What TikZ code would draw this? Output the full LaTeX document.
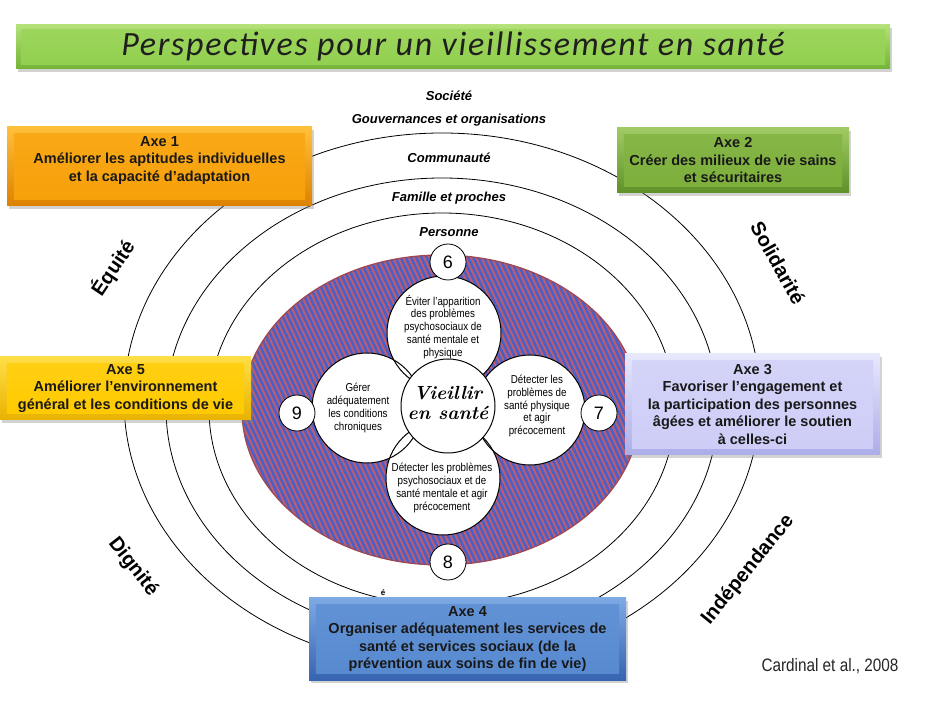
\documentclass[tikz,border=0pt]{standalone}
\usepackage{fontspec}
\newfontfamily\arial{Liberation Sans}
\newfontfamily\narrow[FakeStretch=0.85]{Liberation Sans}
\newfontfamily\titlefont[LetterSpace=5]{Carlito}
\usetikzlibrary{shadows}
\definecolor{stripeblue}{RGB}{72,96,200}
\definecolor{stripered}{RGB}{190,92,112}
\definecolor{rimred}{RGB}{160,70,80}
\definecolor{titretop}{RGB}{180,225,120}\definecolor{titremid}{RGB}{146,208,80}\definecolor{titrebot}{RGB}{115,180,55}
\definecolor{axeatop}{RGB}{255,192,60}\definecolor{axeamid}{RGB}{247,160,10}\definecolor{axeabot}{RGB}{220,130,0}
\definecolor{axebtop}{RGB}{160,202,100}\definecolor{axebmid}{RGB}{125,175,60}\definecolor{axebbot}{RGB}{95,145,40}
\definecolor{axectop}{RGB}{232,232,253}\definecolor{axecmid}{RGB}{205,205,247}\definecolor{axecbot}{RGB}{172,172,232}
\definecolor{axedtop}{RGB}{125,170,228}\definecolor{axedmid}{RGB}{88,138,208}\definecolor{axedbot}{RGB}{55,100,175}
\definecolor{axeetop}{RGB}{255,222,70}\definecolor{axeemid}{RGB}{255,202,0}\definecolor{axeebot}{RGB}{232,178,0}
\begin{document}
\begin{tikzpicture}[x=1pt, y=-1pt,
    axebox/.style={inner sep=0pt, drop shadow={opacity=0.35, shadow xshift=2pt, shadow yshift=-3pt}},
    axetext/.style={align=center, text=black!90, font=\arial\bfseries\fontsize{14.5}{17.5}\selectfont},
    ring/.style={font=\arial\bfseries\itshape\fontsize{13}{15}\selectfont},
    value/.style={font=\arial\bfseries\fontsize{20}{24}\selectfont},
    petal/.style={circle, fill=white, inner sep=0pt},
    petaltext/.style={align=center, font=\narrow\fontsize{11.5}{12.8}\selectfont},
    num/.style={circle, draw, fill=white, line width=0.8pt, minimum size=36pt, inner sep=0pt, font=\arial\fontsize{18}{20}\selectfont}]
\useasboundingbox (0,0) rectangle (946,708);
\fill[white] (0,0) rectangle (946,708);

\draw[line width=0.8pt] (442,400) ellipse [x radius=318pt, y radius=267pt];
\draw[line width=0.8pt] (442,408) ellipse [x radius=276pt, y radius=230pt];
\draw[line width=0.8pt] (442,409) ellipse [x radius=233pt, y radius=196pt];

\begin{scope}
  \clip (441,410) ellipse [x radius=199pt, y radius=155pt];
  \fill[stripered] (240,250) rectangle (645,570);
  \foreach \x in {80,85.2,...,650}
    \draw[stripeblue, line width=2.5pt] (\x,250) -- ++(150,320);
\end{scope}
\draw[rimred, line width=1.2pt] (441,410) ellipse [x radius=199pt, y radius=155pt];

\node[ring] (societe) at (449,96) {Société};
\node[ring] (gouv) at (449,120) {Gouvernances et organisations};
\node[ring] (commu) at (449,158) {Communauté};
\node[ring] (famille) at (449,198) {Famille et proches};
\node[ring] (personne) at (449,232) {Personne};

\node[value, rotate=56] (equite) at (113,268) {Équité};
\node[value, rotate=-61] (solid) at (778,263) {Solidarité};
\node[value, rotate=-52] (dignite) at (133,567) {Dignité};
\node[value, rotate=51] (indep) at (748,570) {Indépendance};

\node[petal, minimum size=114pt] (evit) at (444,333) {};
\node[petal, minimum size=110pt] (detphys) at (530,410) {};
\node[petal, minimum size=114pt] (detpsy) at (443,478) {};
\node[petal, minimum size=110pt] (gerer) at (367,408) {};
\foreach \n/\r in {evit/57, detphys/55, detpsy/57, gerer/55}
  \draw[line width=1pt] (\n.center) circle [radius=\r pt];
\node[petal, draw, line width=1pt, minimum size=94pt] (vieillir) at (448,406) {};

\node[petaltext] (evitt) at (443,327) {Éviter l’apparition\\des problèmes\\psychosociaux de\\santé mentale et\\physique};
\node[petaltext] (detphyst) at (537,406) {Détecter les\\problèmes de\\santé physique\\et agir\\précocement};
\node[petaltext] (detpsyt) at (442,488) {Détecter les problèmes\\psychosociaux et de\\santé mentale et agir\\précocement};
\node[petaltext] (gerert) at (358,408) {Gérer\\adéquatement\\les conditions\\chroniques};
\node[align=center, font=\bfseries\itshape\fontsize{19}{20}\selectfont] (vieillirt) at (448,403) {Vieillir\\en santé};

\node[num] (n6) at (448,262) {6};
\node[num] (n7) at (599,413) {7};
\node[num] (n8) at (448,562) {8};
\node[num] (n9) at (297,413) {9};
\node[font=\arial\bfseries\fontsize{8}{9}\selectfont] (accent) at (383,593) {é};

\node[axebox, top color=titretop, bottom color=titrebot, minimum width=874pt, minimum height=44pt] (titre) at (453,47) {};
\shade[top color=titremid!70!titretop, bottom color=titremid] ([xshift=5pt,yshift=-5pt]titre.north west) rectangle ([xshift=-5pt,yshift=5pt]titre.south east);
\node[text=black!88, font=\titlefont\itshape\fontsize{34}{36}\selectfont] (titret) at (453,46) {Perspectives pour un vieillissement en santé};

\node[axebox, top color=axeatop, bottom color=axeabot, minimum width=305pt, minimum height=79pt] (axe1) at (159.5,166.5) {};
\shade[top color=axeamid!75!axeatop, bottom color=axeamid] ([xshift=7pt,yshift=-7pt]axe1.north west) rectangle ([xshift=-7pt,yshift=7pt]axe1.south east);
\node[axetext] (axe1t) at ([yshift=6pt]axe1) {Axe 1\\Améliorer les aptitudes individuelles\\et la capacité d’adaptation};

\node[axebox, top color=axebtop, bottom color=axebbot, minimum width=232pt, minimum height=65pt] (axe2) at (733,160.5) {};
\shade[top color=axebmid!75!axebtop, bottom color=axebmid] ([xshift=7pt,yshift=-7pt]axe2.north west) rectangle ([xshift=-7pt,yshift=7pt]axe2.south east);
\node[axetext] (axe2t) at (axe2) {Axe 2\\Créer des milieux de vie sains\\et sécuritaires};

\node[axebox, top color=axectop, bottom color=axecbot, minimum width=255pt, minimum height=101pt] (axe3) at (752.5,404.5) {};
\shade[top color=axecmid!75!axectop, bottom color=axecmid] ([xshift=7pt,yshift=-7pt]axe3.north west) rectangle ([xshift=-7pt,yshift=7pt]axe3.south east);
\node[axetext] (axe3t) at (axe3) {Axe 3\\Favoriser l’engagement et\\la participation des personnes\\âgées et améliorer le soutien\\à celles-ci};

\node[axebox, top color=axedtop, bottom color=axedbot, minimum width=317pt, minimum height=82pt] (axe4) at (467.5,639) {};
\shade[top color=axedmid!75!axedtop, bottom color=axedmid] ([xshift=7pt,yshift=-7pt]axe4.north west) rectangle ([xshift=-7pt,yshift=7pt]axe4.south east);
\node[axetext] (axe4t) at (axe4) {Axe 4\\Organiser adéquatement les services de\\santé et services sociaux (de la\\prévention aux soins de fin de vie)};

\node[axebox, top color=axeetop, bottom color=axeebot, minimum width=251pt, minimum height=63pt] (axe5) at (125.5,388.5) {};
\shade[top color=axeemid!75!axeetop, bottom color=axeemid] ([xshift=7pt,yshift=-7pt]axe5.north west) rectangle ([xshift=-7pt,yshift=7pt]axe5.south east);
\node[axetext] (axe5t) at (axe5) {Axe 5\\Améliorer l’environnement\\général et les conditions de vie};

\node[font=\narrow\fontsize{18}{20}\selectfont, text=black!85] (cardinal) at (830,666) {Cardinal et al., 2008};
\end{tikzpicture}
\end{document}
